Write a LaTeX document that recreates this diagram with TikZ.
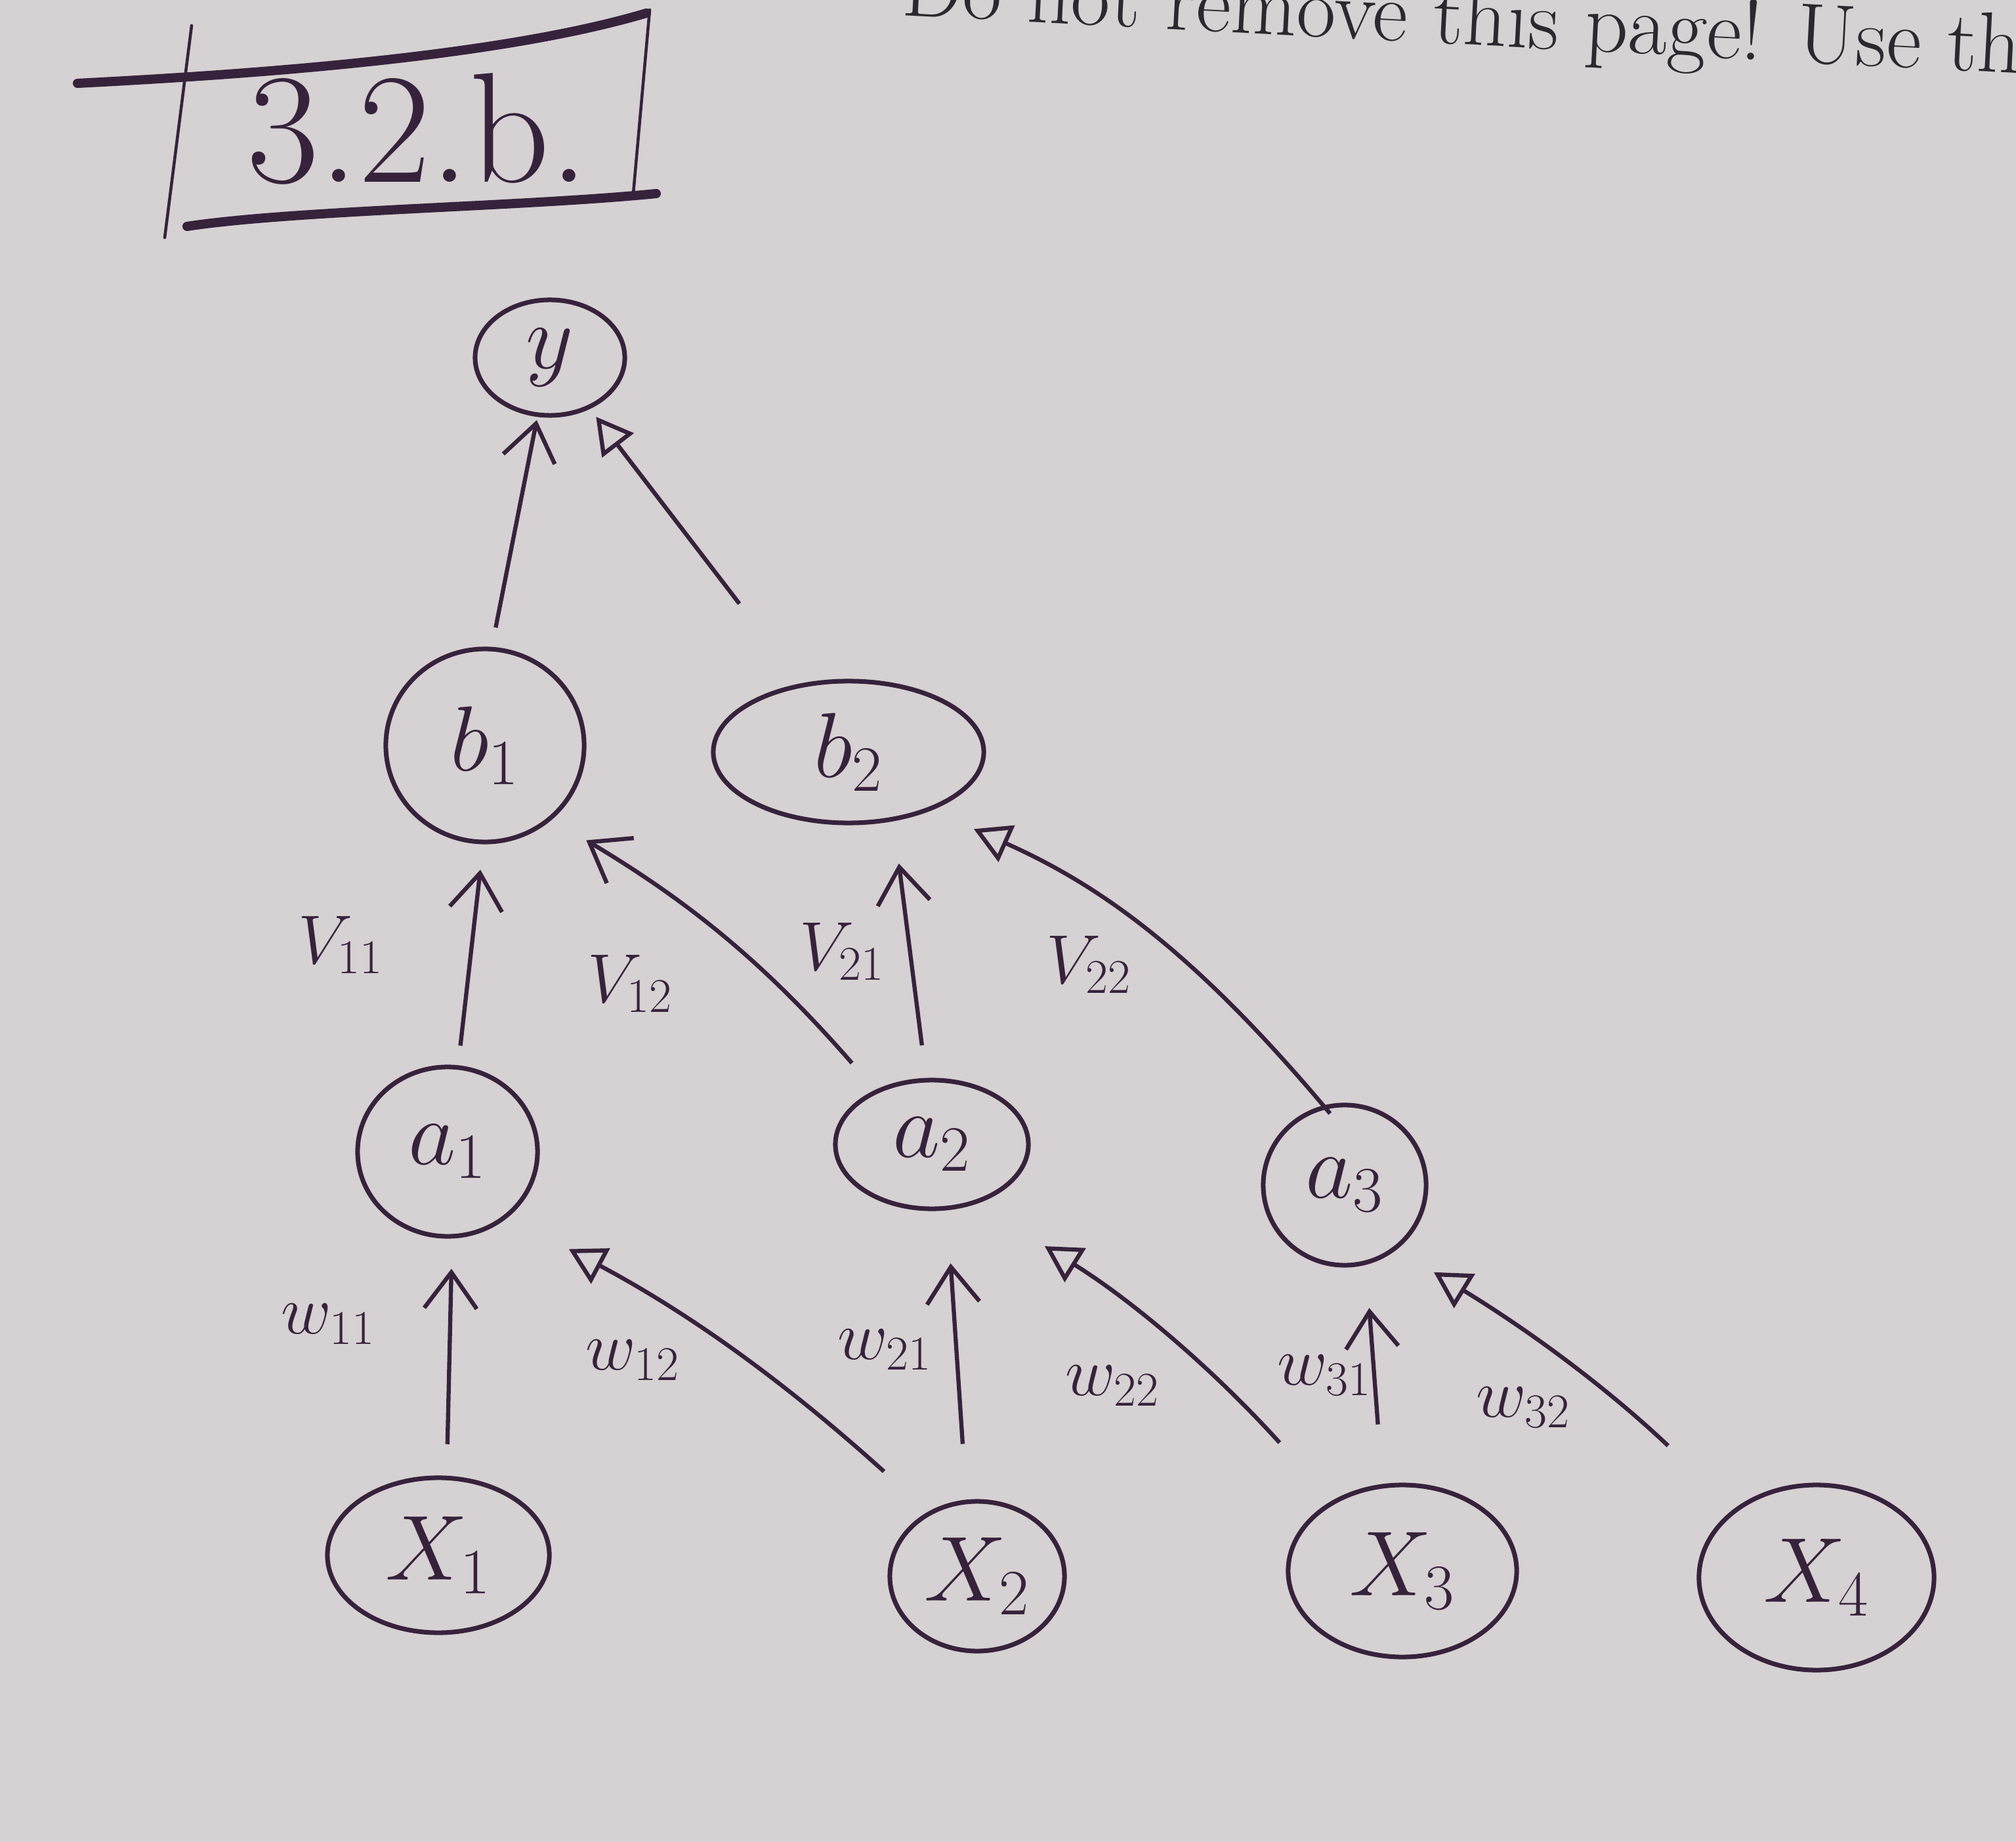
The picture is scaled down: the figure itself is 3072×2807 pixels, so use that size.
\RequirePackage{fix-cm}
\documentclass[tikz,border=0pt]{standalone}
\usetikzlibrary{arrows.meta,shapes.geometric}
\definecolor{paper}{RGB}{214,209,210}
\definecolor{ink}{RGB}{55,34,60}
\definecolor{printink}{RGB}{45,40,45}
\begin{document}
\begin{tikzpicture}[x=0.01cm,y=-0.01cm,
  nd/.style={ellipse,draw=ink,line width=2pt,inner sep=0pt,text=ink,font=\fontsize{40}{48}\selectfont},
  lbl/.style={text=ink,font=\fontsize{30}{36}\selectfont,inner sep=0pt},
  con/.style={draw=ink,line width=1.8pt,-{Straight Barb[length=0.55cm,width=0.8cm]}},
  cont/.style={draw=ink,line width=1.8pt,-{Triangle[open,length=0.55cm,width=0.6cm]}},
  pen/.style={draw=ink,line cap=round}
]
\fill[paper] (0,0) rectangle (3072,2807);
\useasboundingbox (0,0) rectangle (3072,2807);

% printed header (cut off by page edge, as in the photo)
\node[text=printink,font=\fontsize{37}{44}\selectfont,anchor=base west,rotate=-3,inner sep=0pt] (hdr) at (1373,23) {Do not remove this page! Use this};

% title box
\draw[pen,line width=4pt] (118,127) .. controls (350,115) and (750,90) .. (985,20);
\draw[pen,line width=4pt] (285,345) .. controls (450,320) and (800,315) .. (1000,295);
\draw[pen,line width=1.3pt] (990,15) -- (965,295);
\draw[pen,line width=1.3pt] (292,39) -- (251,362);
\node[text=ink,font=\fontsize{68}{80}\selectfont] (title) at (637,196) {3.2.b.};

% nodes
\node[nd,minimum width=2.28cm,minimum height=1.76cm] (y) at (838,545) {$y$};
\node[nd,minimum width=3.02cm,minimum height=2.94cm] (b1) at (739,1136) {$b_1$};
\node[nd,minimum width=4.12cm,minimum height=2.16cm] (b2) at (1293,1146) {$b_2$};
\node[nd,minimum width=2.74cm,minimum height=2.58cm] (a1) at (682,1755) {$a_1$};
\node[nd,minimum width=2.94cm,minimum height=1.96cm] (a2) at (1420,1744) {$a_2$};
\node[nd,minimum width=2.48cm,minimum height=2.44cm] (a3) at (2049,1806) {$a_3$};
\node[nd,minimum width=3.38cm,minimum height=2.36cm] (x1) at (668,2370) {$X_1$};
\node[nd,minimum width=2.66cm,minimum height=2.28cm] (x2) at (1489,2402) {$X_2$};
\node[nd,minimum width=3.48cm,minimum height=2.62cm] (x3) at (2137,2394) {$X_3$};
\node[nd,minimum width=3.58cm,minimum height=2.82cm] (x4) at (2768,2404) {$X_4$};

% connectors
\draw[con,shorten <=0.30cm,shorten >=0.05cm] (b1.86) -- (y.258);
\draw[cont,shorten <=1.53cm,shorten >=0.15cm] (b2.125.6) -- (y.-52);
\draw[con,shorten <=0.30cm,shorten >=0.39cm] (a1.83) -- (b1.269);
\draw[con,shorten <=0.54cm,shorten >=0.61cm] (a2.136) to[bend right=9] (b1.-48.5);
\draw[con,shorten <=0.50cm,shorten >=0.65cm] (a2.95) -- (b2.-57);
\draw[cont,shorten <=-0.16cm,shorten >=0.70cm] (a3.105) to[bend right=13] (b2.-35);
\draw[con,shorten <=0.48cm,shorten >=0.46cm] (x1.84) -- (a1.-87);
\draw[cont,shorten <=0.91cm,shorten >=1.04cm] (x2.127) to[bend right=7] (a1.-47.6);
\draw[con,shorten <=0.85cm,shorten >=0.81cm] (x2.98) -- (a2.-77);
\draw[cont,shorten <=1.19cm,shorten >=1.22cm] (x3.135) to[bend right=8] (a2.-53.6);
\draw[con,shorten <=0.91cm,shorten >=0.66cm] (x3.103) -- (a3.-75.5);
\draw[cont,shorten <=1.39cm,shorten >=0.66cm] (x4.140.6) to[bend right=6] (a3.-51.2);

% weight labels
\node[lbl] (lv11) at (519,1440) {$V_{11}$};
\node[lbl] (lv12) at (960,1499) {$V_{12}$};
\node[lbl] (lv21) at (1283,1450) {$V_{21}$};
\node[lbl] (lv22) at (1659,1470) {$V_{22}$};
\node[lbl] (lw11) at (500,2018) {$w_{11}$};
\node[lbl] (lw12) at (964,2073) {$w_{12}$};
\node[lbl] (lw21) at (1348,2057) {$w_{21}$};
\node[lbl] (lw22) at (1695,2112) {$w_{22}$};
\node[lbl] (lw31) at (2018,2096) {$w_{31}$};
\node[lbl] (lw32) at (2321,2145) {$w_{32}$};
\end{tikzpicture}
\end{document}
